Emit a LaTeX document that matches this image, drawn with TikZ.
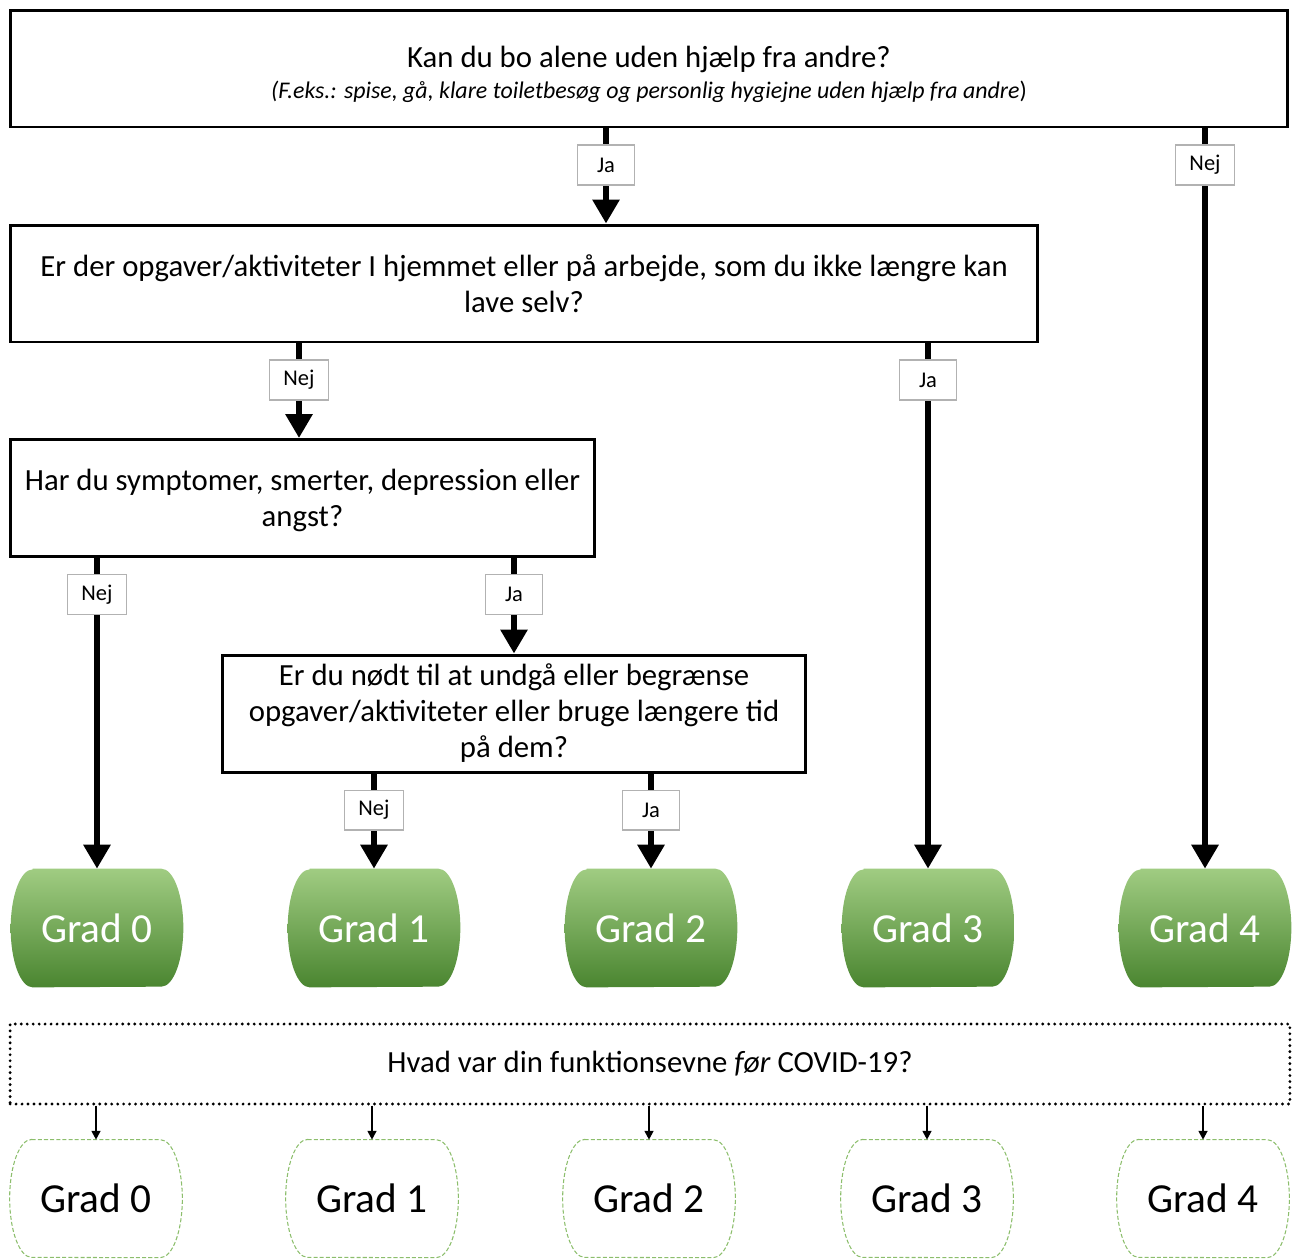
\documentclass[tikz,border=0pt]{standalone}
\usepackage{fontspec}
\setmainfont{Carlito}
\usetikzlibrary{arrows.meta, positioning, backgrounds}
\definecolor{gradTop}{RGB}{160,204,130}
\definecolor{gradBot}{RGB}{74,133,48}
\definecolor{gradEdge}{RGB}{140,190,108}

\begin{document}
\begin{tikzpicture}[x=0.02cm, y=-0.02cm,
    qbox/.style={draw, line width=1.7pt, minimum height=2.34cm, align=center,
      font=\fontsize{17.5}{20.5}\selectfont, inner sep=2pt},
    lbl/.style={draw=gray!60, line width=0.6pt, fill=white, minimum width=1.14cm,
      minimum height=0.8cm, inner xsep=8pt, inner ysep=1pt, font=\fontsize{12.8}{15}\selectfont},
    flow/.style={line width=3.4pt, -{Triangle[width=0.52cm, length=0.48cm]}},
    pointer/.style={line width=1.1pt, -{Triangle[width=5pt, length=5pt]}},
    gradbox/.style={minimum width=2.56cm, minimum height=2.36cm, inner sep=0pt,
      font=\fontsize{23.5}{26}\selectfont},
    gradside/.style={x radius=0.44cm, y radius=1.18cm},
    dotbox/.style={draw, line width=1.8pt, line cap=round, dash pattern=on 0pt off 3.4pt,
      minimum width=25.6cm, minimum height=1.6cm, font=\fontsize{17.5}{20.5}\selectfont}
  ]
  \useasboundingbox (0,0) rectangle (1293,1259);

  % questions
  \node[qbox, minimum width=25.56cm] (q1) at (649,68.5)
    {\rule{0pt}{19pt}Kan du bo alene uden hjælp fra andre?\\[-3pt]
     {\fontsize{13.6}{16}\selectfont\textit{(F.eks.: spise, gå, klare toiletbesøg og personlig hygiejne uden hjælp fra andre})}};
  \node[qbox, minimum width=20.56cm] (q2) at (524,283.5)
    {Er der opgaver/aktiviteter I hjemmet eller på arbejde, som du ikke længre kan\\lave selv?};
  \node[qbox, minimum width=11.7cm] (q3) at (302.5,498)
    {\rule{0pt}{15pt}Har du symptomer, smerter, depression eller\\angst?};
  \node[qbox, minimum width=11.68cm] (q4) at (514,713.5)
    {Er du nødt til at undgå eller begrænse\\opgaver/aktiviteter eller bruge længere tid\\på dem?};

  % grades now
  \foreach \x/\n in {97/0, 374/1, 651/2, 928/3, 1205/4} {
    \node[gradbox, text=white] (g\n) at (\x,928) {Grad \n};
    \begin{scope}[on background layer]
      \shade[top color=gradTop, bottom color=gradBot] (g\n.north west) -- (g\n.north east)
        arc[start angle=90, end angle=-90, gradside] -- (g\n.south west)
        arc[start angle=270, end angle=90, gradside] -- cycle;
    \end{scope}
  }

  \draw[flow] (q1.south -| 606,0) -- node[lbl, at start, below=0.32cm] (a1) {Ja} (q2.north -| 606,0);
  \draw[flow] (q1.south -| g4) -- node[lbl, at start, below=0.32cm] (a2) {Nej} (g4.north);
  \draw[flow] (q2.south -| 299,0) -- node[lbl, at start, below=0.32cm] (a3) {Nej} (q3.north -| 299,0);
  \draw[flow] (q2.south -| g3) -- node[lbl, at start, below=0.32cm] (a4) {Ja} (g3.north);
  \draw[flow] (q3.south -| g0) -- node[lbl, at start, below=0.32cm] (a5) {Nej} (g0.north);
  \draw[flow] (q3.south -| q4) -- node[lbl, at start, below=0.32cm] (a6) {Ja} (q4.north);
  \draw[flow] (q4.south -| g1) -- node[lbl, at start, below=0.32cm] (a7) {Nej} (g1.north);
  \draw[flow] (q4.south -| g2) -- node[lbl, at start, below=0.32cm] (a8) {Ja} (g2.north);

  % function before covid
  \node[dotbox] (pre) at (650,1064) {Hvad var din funktionsevne \textit{før} COVID-19?};
  \foreach \x/\n in {96/0, 372/1, 649/2, 927/3, 1203/4} {
    \node[gradbox, minimum height=2.34cm] (p\n) at (\x,1198.5) {Grad \n};
    \draw[draw=gradEdge, line width=0.6pt, dash pattern=on 2.3pt off 1.2pt]
      (p\n.north west) -- (p\n.north east) arc[start angle=90, end angle=-90, gradside]
      -- (p\n.south west) arc[start angle=270, end angle=90, gradside] -- cycle;
    \draw[pointer] (pre.south -| p\n) -- (p\n.north);
  }
\end{tikzpicture}
\end{document}
